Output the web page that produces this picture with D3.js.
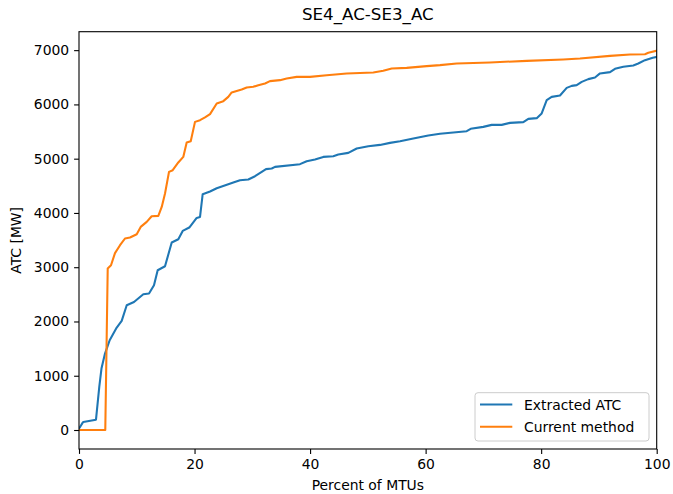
<!DOCTYPE html>
<html><head><meta charset="utf-8">
<script src="https://cdn.jsdelivr.net/npm/d3@7"></script>
<style>body{margin:0;background:#fff}svg text{font-family:"DejaVu Sans",sans-serif}</style>
</head><body>
<svg id="c" width="673" height="494"></svg>
<script>
const title = "SE4_AC-SE3_AC";
const xLabel = "Percent of MTUs";
const yLabel = "ATC [MW]";
const seriesNames = ["Extracted ATC", "Current method"];
const xTicks = [0, 20, 40, 60, 80, 100];
const yTicks = [0, 1000, 2000, 3000, 4000, 5000, 6000, 7000];

const extractedX = [0,0.64,0.74,2.94,3.51,3.89,4.50,5.31,6.53,7.39,8.26,9.52,11.13,12.12,12.98,13.62,14.89,16.05,17.19,17.95,19.09,20.37,20.95,21.41,22.68,23.84,25.84,26.71,27.87,29.31,30.47,31.63,32.37,33.36,33.93,38.25,39.41,40.85,42.29,44.02,44.88,46.62,48.07,50.08,52.10,53.83,55.57,57.87,60.46,62.49,67.11,67.80,69.98,71.44,73.17,74.61,76.91,77.78,79.23,80.09,80.96,81.82,83.26,84.42,85.29,86.15,87.02,88.16,89.32,90.18,91.92,92.78,94.22,95.95,96.81,97.97,99.31,100];
const extractedY = [25,136,147,190,793,1132,1408,1654,1888,2010,2299,2360,2502,2515,2668,2944,3018,3455,3516,3669,3731,3908,3927,4345,4395,4456,4530,4561,4604,4616,4677,4757,4807,4819,4849,4899,4954,4985,5033,5046,5077,5107,5188,5230,5254,5291,5322,5372,5428,5460,5507,5550,5586,5623,5623,5660,5673,5734,5747,5833,6078,6139,6165,6305,6342,6355,6416,6466,6497,6571,6595,6656,6693,6718,6755,6816,6860,6875];

const currentX = [0,4.40,4.55,4.97,5.54,6.23,7.10,7.96,8.83,9.99,10.68,11.72,12.58,13.73,14.32,14.89,15.58,16.22,17.19,18.05,18.64,19.34,20.08,20.95,21.81,22.68,23.84,24.98,25.84,26.43,28.16,29.03,30.17,31.04,32.20,33.06,34.79,35.95,37.68,39.99,42.88,46.34,50.94,52.67,54.13,56.72,60.19,62.49,65.38,71.14,77.50,83.83,86.72,91.92,95.38,97.97,98.55,100];
const currentY = [0,0,0,2975,3036,3260,3405,3529,3547,3608,3743,3835,3940,3946,4111,4358,4757,4788,4930,5033,5299,5323,5678,5710,5760,5821,6018,6060,6139,6220,6276,6313,6324,6355,6386,6429,6447,6478,6508,6508,6539,6571,6589,6619,6663,6674,6705,6724,6755,6773,6803,6829,6847,6895,6921,6926,6951,6990];

const colors = ["#1f77b4", "#ff7f0e"];
const svg = d3.select("#c");
const L = 79, R = 656.7, T = 31.7, B = 449;
const yMin = -350, yMax = 7340;
const x = d3.scaleLinear().domain([0, 100]).range([L, R]);
const y = d3.scaleLinear().domain([yMin, yMax]).range([B, T]);

const series = [
  extractedX.map((v, i) => [v, extractedY[i]]),
  currentX.map((v, i) => [v, currentY[i]])
];
const line = d3.line().x(d => x(d[0])).y(d => y(d[1]));
const clip = svg.append("clipPath").attr("id", "clp").append("rect")
  .attr("x", L).attr("y", T).attr("width", R - L).attr("height", B - T);
series.forEach((s, i) => {
  svg.append("path").datum(s).attr("d", line).attr("fill", "none")
    .attr("stroke", colors[i]).attr("stroke-width", 2.08)
    .attr("stroke-linejoin", "round").attr("stroke-linecap", "square")
    .attr("clip-path", "url(#clp)");
});

const fs = "13.9px";
const xAxis = svg.append("g").attr("transform", `translate(0,${B})`)
  .call(d3.axisBottom(x).tickValues(xTicks).tickFormat(d3.format("d")).tickSizeOuter(0).tickSize(4.9).tickPadding(4.9));
const yAxis = svg.append("g").attr("transform", `translate(${L},0)`)
  .call(d3.axisLeft(y).tickValues(yTicks).tickFormat(d3.format("d")).tickSizeOuter(0).tickSize(4.9).tickPadding(4.9));
[xAxis, yAxis].forEach(a => {
  a.select(".domain").remove();
  a.selectAll("line").attr("stroke", "#000").attr("stroke-width", 1.1);
  a.selectAll("text").attr("font-size", fs).attr("fill", "#000").attr("font-family", "DejaVu Sans");
});
// spines
svg.append("rect").attr("x", L).attr("y", T).attr("width", R - L).attr("height", B - T)
  .attr("fill", "none").attr("stroke", "#000").attr("stroke-width", 1.1);

svg.append("text").attr("x", (L + R) / 2).attr("y", 20).attr("text-anchor", "middle")
  .attr("font-size", "16.7px").text(title);
svg.append("text").attr("x", (L + R) / 2).attr("y", 490).attr("text-anchor", "middle")
  .attr("font-size", fs).text(xLabel);
svg.append("text").attr("transform", `translate(21,${(T + B) / 2}) rotate(-90)`)
  .attr("text-anchor", "middle").attr("font-size", fs).text(yLabel);

// legend
const lg = svg.append("g");
lg.append("rect").attr("x", 475).attr("y", 392.7).attr("width", 174).attr("height", 48.3)
  .attr("rx", 3).attr("fill", "#fff").attr("fill-opacity", 0.8).attr("stroke", "#ccc").attr("stroke-width", 1);
seriesNames.forEach((n, i) => {
  const cy = 404.5 + i * 22.3;
  lg.append("line").attr("x1", 480).attr("x2", 512.3).attr("y1", cy).attr("y2", cy)
    .attr("stroke", colors[i]).attr("stroke-width", 2.08);
  lg.append("text").attr("x", 524).attr("y", cy).attr("dy", "0.36em")
    .attr("font-size", fs).text(n);
});
</script>
</body></html>
